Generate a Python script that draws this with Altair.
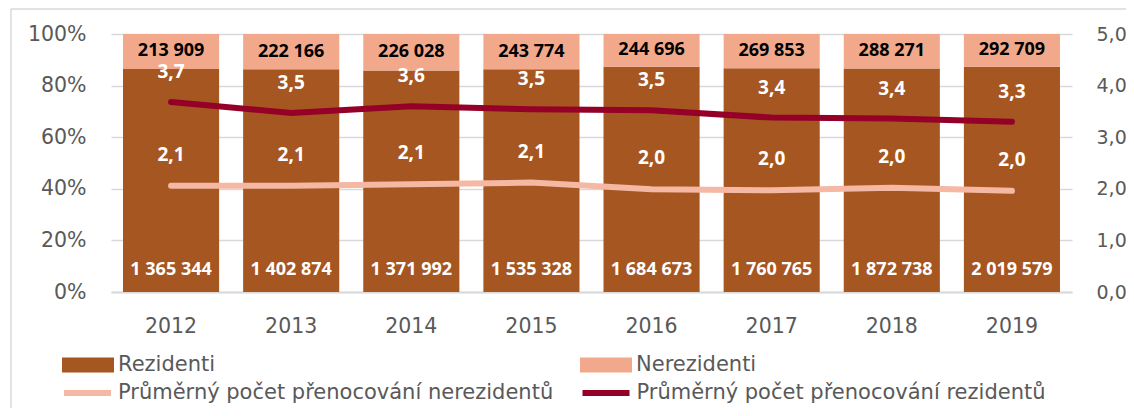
import altair as alt
import pandas as pd

years = ["2012", "2013", "2014", "2015", "2016", "2017", "2018", "2019"]
rezidenti = [1365344, 1402874, 1371992, 1535328, 1684673, 1760765, 1872738, 2019579]
nerezidenti = [213909, 222166, 226028, 243774, 244696, 269853, 288271, 292709]
avg_rez = [3.68, 3.47, 3.60, 3.54, 3.52, 3.38, 3.36, 3.30]
avg_nerez = [2.06, 2.06, 2.09, 2.12, 1.99, 1.97, 2.02, 1.96]

L_REZ = "Rezidenti"
L_NEREZ = "Nerezidenti"
L_AN = "Průměrný počet přenocování nerezidentů"
L_AR = "Průměrný počet přenocování rezidentů"
TITLE = "průměrný počet přenocování v letech 2012–2019"

C_REZ = "#A65620"
C_NEREZ = "#F2A98B"
C_AN = "#F5B8A5"
C_AR = "#950029"
GREY = "#595959"
GRID = "#D9D9D9"
FONT = "DejaVu Sans"
BFONT = "Open Sans"
FS = 20.5
LFS = 21

df = pd.DataFrame({"year": years, "rez": rezidenti, "nerez": nerezidenti,
                   "ar": avg_rez, "an": avg_nerez})
df["total"] = df["rez"] + df["nerez"]
df["share"] = df["rez"] / df["total"]
df["mid"] = (df["share"] + 1) / 2
df["zero"] = 0.0
df["one"] = 1.0
df["rez_lab"] = [f"{v:,}".replace(",", " ") for v in df["rez"]]
df["nerez_lab"] = [f"{v:,}".replace(",", " ") for v in df["nerez"]]
df["ar_lab"] = [f"{v:.1f}".replace(".", ",") for v in df["ar"]]
df["an_lab"] = [f"{v:.1f}".replace(".", ",") for v in df["an"]]
df["k_rez"] = L_REZ
df["k_nerez"] = L_NEREZ
df["k_an"] = L_AN
df["k_ar"] = L_AR

base = alt.Chart(df)

X = alt.X("year:N", title=None,
          scale=alt.Scale(paddingInner=0.2, paddingOuter=0.1),
          axis=alt.Axis(labelAngle=0, labelFontSize=FS, labelColor=GREY, labelFont=FONT,
                        ticks=False, domainColor=GRID, domainWidth=2, labelPadding=24,
                        grid=False))

left_axis = alt.Axis(format=".0%", values=[0, 0.2, 0.4, 0.6, 0.8, 1.0], labelFontSize=FS,
                     labelColor=GREY, labelFont=FONT, ticks=False, domain=False,
                     gridColor=GRID, gridWidth=1.5, labelPadding=25, title=None)
yscale_l = alt.Scale(domain=[0, 1], nice=False)

right_axis = alt.Axis(orient="right", values=[0, 1, 2, 3, 4, 5],
                      labelExpr="replace(format(datum.value, '.1f'), '.', ',')",
                      labelFontSize=19, labelColor=GREY, labelFont=FONT, ticks=False,
                      domain=False, grid=False, labelPadding=24, title=None)
yscale_r = alt.Scale(domain=[0, 5], nice=False)

RECT = "M-1,-0.29L1,-0.29L1,0.29L-1,0.29Z"


def leg(x, y, shape, size):
    return alt.Legend(orient="none", legendX=x, legendY=y, title=None, padding=0,
                      symbolType=shape, symbolSize=size, labelFontSize=LFS,
                      labelColor=GREY, labelFont=FONT, labelOffset=4,
                      symbolStrokeWidth=6 if shape == "stroke" else 0,
                      labelLimit=0)


bar_rez = base.mark_bar().encode(
    x=X,
    y=alt.Y("share:Q", scale=yscale_l, axis=left_axis),
    y2="zero:Q",
    fill=alt.Fill("k_rez:N", scale=alt.Scale(domain=[L_REZ], range=[C_REZ]),
                  legend=leg(-49, 305, RECT, 2704)),
)
bar_nerez = base.mark_bar().encode(
    x=X,
    y=alt.Y("share:Q", scale=yscale_l, axis=left_axis),
    y2="one:Q",
    fill=alt.Fill("k_nerez:N", scale=alt.Scale(domain=[L_NEREZ], range=[C_NEREZ]),
                  legend=leg(469, 305, RECT, 2704)),
)
txt_nerez = base.mark_text(font=BFONT, fontSize=18, fontWeight="bold", color="black",
                           baseline="middle").encode(
    x=X, y=alt.Y("mid:Q", scale=yscale_l, axis=left_axis), text="nerez_lab:N")
txt_rez = base.mark_text(font=BFONT, fontSize=18, fontWeight="bold", color="white",
                         baseline="middle", dy=-22).encode(
    x=X, y=alt.Y("zero:Q", scale=yscale_l, axis=left_axis), text="rez_lab:N")

border = alt.Chart(pd.DataFrame({"a": [0]}))
border_v = border.mark_rule(color=GRID, strokeWidth=1.5).encode(
    x=alt.value(-100), y=alt.value(-25), y2=alt.value(400))
border_h = border.mark_rule(color=GRID, strokeWidth=1.5).encode(
    x=alt.value(-100), x2=alt.value(1100), y=alt.value(-25))
title_txt = border.mark_text(font=FONT, fontSize=21, color="#A50034", align="left",
                             baseline="alphabetic").encode(
    x=alt.value(-106), y=alt.value(-30), text=alt.value(TITLE))

bars = alt.layer(border_v, border_h, title_txt, bar_rez, bar_nerez, txt_nerez,
                 txt_rez).resolve_scale(fill="independent")

line_an = base.mark_line(strokeWidth=6, strokeCap="round").encode(
    x=X, y=alt.Y("an:Q", scale=yscale_r, axis=right_axis),
    stroke=alt.Stroke("k_an:N", scale=alt.Scale(domain=[L_AN], range=[C_AN]),
                      legend=leg(-50, 332.5, "stroke", 2209)))
line_ar = base.mark_line(strokeWidth=6, strokeCap="round").encode(
    x=X, y=alt.Y("ar:Q", scale=yscale_r, axis=right_axis),
    stroke=alt.Stroke("k_ar:N", scale=alt.Scale(domain=[L_AR], range=[C_AR]),
                      legend=leg(468.5, 332.5, "stroke", 2209)))
txt_an = base.mark_text(font=BFONT, fontSize=19, fontWeight="bold", color="white",
                        baseline="middle", dy=-31).encode(
    x=X, y=alt.Y("an:Q", scale=yscale_r, axis=right_axis), text="an_lab:N")
txt_ar = base.mark_text(font=BFONT, fontSize=19, fontWeight="bold", color="white",
                        baseline="middle", dy=-30).encode(
    x=X, y=alt.Y("ar:Q", scale=yscale_r, axis=right_axis), text="ar_lab:N")

lines = alt.layer(line_an, line_ar, txt_an, txt_ar).resolve_scale(stroke="independent")

chart = alt.layer(bars, lines).resolve_scale(y="independent").properties(
    width=961, height=258,
    autosize=alt.AutoSizeParams(type="none"),
    padding={"left": 103, "top": 26, "right": 54, "bottom": 116},
).configure_view(stroke=None)

chart.save("out.html", embed_options={"renderer": "svg", "actions": False})
